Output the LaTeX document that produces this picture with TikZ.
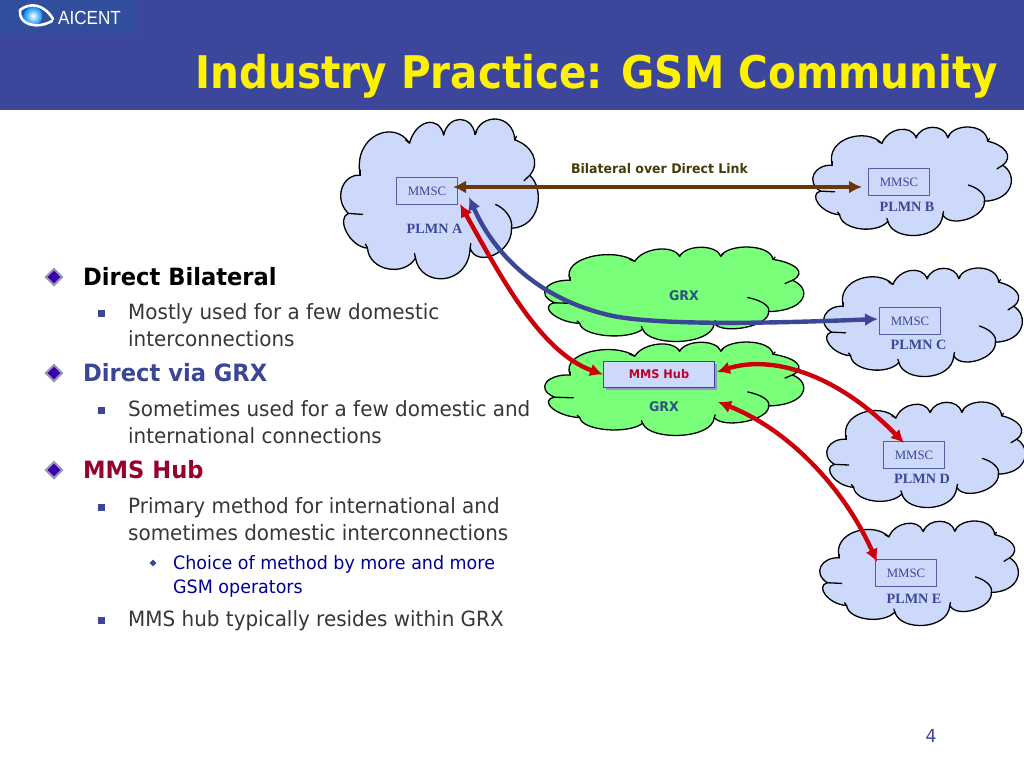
\documentclass[tikz,border=0pt]{standalone}
\usepackage{fontspec}
\setmainfont{DejaVu Sans}[FakeStretch=0.95]
\newfontfamily\titleface{DejaVu Sans}[FakeStretch=0.9]
\newfontfamily\serifface{Liberation Serif}
\newfontfamily\logoface{Liberation Sans}[FakeStretch=0.9]
\usetikzlibrary{arrows.meta,shapes.geometric}
\definecolor{header}{RGB}{60,70,155}
\definecolor{logobg}{RGB}{48,78,155}
\definecolor{cloudblue}{RGB}{204,217,250}
\definecolor{cloudgreen}{RGB}{122,255,122}
\definecolor{navyish}{RGB}{60,70,150}
\definecolor{boxedge}{RGB}{85,95,165}
\definecolor{crimson}{RGB}{150,0,45}
\definecolor{hubred}{RGB}{190,0,40}
\definecolor{arrowred}{RGB}{204,0,10}
\definecolor{arrowbrown}{RGB}{105,55,10}
\definecolor{labelolive}{RGB}{70,60,10}
\definecolor{grxtext}{RGB}{45,85,130}
\definecolor{bodygrey}{RGB}{55,55,55}
\definecolor{deepblue}{RGB}{0,0,150}
\definecolor{diamondfill}{RGB}{60,0,170}
\definecolor{diamondedge}{RGB}{150,150,190}
\newcommand{\cloudA}[5]{%
\begin{scope}[shift={(#1,#2)},xscale=#3/592,yscale=#4/480]
\draw[black,line width=1.3pt,fill=#5,line join=round]
 (207,73) .. controls (225,4) and (295,-14) .. (310,48)
 .. controls (325,-14) and (395,-14) .. (405,47)
 .. controls (420,-18) and (520,-18) .. (525,63)
 .. controls (575,80) and (605,130) .. (570,170)
 .. controls (615,210) and (605,325) .. (515,330)
 .. controls (518,405) and (410,450) .. (390,390)
 .. controls (385,505) and (240,510) .. (225,420)
 .. controls (190,478) and (85,458) .. (80,390)
 .. controls (25,385) and (-15,300) .. (22,285)
 .. controls (-24,240) and (5,165) .. (58,170)
 .. controls (35,50) and (160,0) .. (207,73) -- cycle;
\draw[black,line width=1.3pt,line cap=round]
 (207,73) -- (195,63) (310,48) -- (312,38) (405,47) -- (410,36)
 (525,63) -- (530,52) (570,170) -- (553,186)
 (515,330) .. controls (520,300) and (495,270) .. (467,258)
 (390,390) -- (392,376) (225,420) -- (222,406) (80,390) -- (74,378)
 (22,285) -- (65,288) (58,170) -- (58,154);
\end{scope}}
\tikzset{
 mmscbox/.style={draw=boxedge,line width=1pt,minimum width=61pt,minimum height=27pt,inner sep=0pt,anchor=north west,text=navyish,font=\serifface\fontsize{12.8}{14}\selectfont},
 plmn/.style={anchor=base,text=navyish,font=\serifface\bfseries\fontsize{14.2}{15}\selectfont},
 grxlabel/.style={anchor=base,text=grxtext,font=\bfseries\fontsize{13.3}{15}\selectfont},
 lvlone/.style={anchor=base west,inner sep=0pt,font=\bfseries\fontsize{23.8}{26}\selectfont},
 lvltwo/.style={anchor=base west,inner sep=0pt,text=bodygrey,font=\fontsize{21}{24}\selectfont},
 lvlthree/.style={anchor=base west,inner sep=0pt,text=deepblue,font=\fontsize{18.4}{21}\selectfont},
 bulletone/.style={diamond,draw=diamondedge,fill=diamondfill,line width=2pt,minimum width=17pt,minimum height=17pt,inner sep=0pt},
 bullettwo/.style={rectangle,fill=navyish,minimum width=7pt,minimum height=7pt,inner sep=0pt},
 bulletthree/.style={diamond,fill=navyish,minimum width=7pt,minimum height=7pt,inner sep=0pt},
 bothways/.style={line width=4.4pt,{Latex[length=13pt,width=13pt]}-{Latex[length=13pt,width=13pt]}},
}
\begin{document}
\begin{tikzpicture}[x=1pt,y=-1pt]
\useasboundingbox (0,0) rectangle (1024,768);
\fill[white] (0,0) rectangle (1024,768);
\fill[header] (0,0) rectangle (1024,110);
\fill[logobg] (0,0) rectangle (137,33);
% logo
\shade[inner color=white,outer color=blue!45!cyan] (33,16) circle (9.5pt);
\draw[white,line width=2.6pt,line cap=round] (20,10) .. controls (18,24) and (36,30) .. (52,21);
\draw[white,line width=2.6pt,line cap=round] (20,10) .. controls (30,2) and (44,4) .. (53,19);
\node[anchor=base west,inner sep=0pt,text=white,font=\logoface\fontsize{19}{20}\selectfont] (logotext) at (58,25) {AICENT};
% title
\node[anchor=base east,inner sep=0pt,text=yellow,font=\titleface\bfseries\fontsize{45}{48}\selectfont] (title) at (998,88) {Industry Practice: GSM Community};
% clouds
\cloudA{341}{119}{196}{159}{cloudblue}
\cloudA{813}{127}{197}{108}{cloudblue}
\cloudA{824}{268}{197}{108}{cloudblue}
\cloudA{827}{402}{197}{105}{cloudblue}
\cloudA{820}{521}{197}{104}{cloudblue}
\cloudA{545}{247}{257}{94}{cloudgreen}
\cloudA{545}{342}{257}{93}{cloudgreen}
% boxes
\node[mmscbox] (mmscA) at (396,177) {MMSC};
\node[mmscbox] (mmscB) at (868,168) {MMSC};
\node[mmscbox] (mmscC) at (879,307) {MMSC};
\node[mmscbox] (mmscD) at (883,441) {MMSC};
\node[mmscbox] (mmscE) at (875,559) {MMSC};
\node[plmn] (plmnA) at (434.5,233) {PLMN A};
\node[plmn] (plmnB) at (907,211) {PLMN B};
\node[plmn] (plmnC) at (918.5,349) {PLMN C};
\node[plmn] (plmnD) at (922,483) {PLMN D};
\node[plmn] (plmnE) at (914,603) {PLMN E};
\node[grxlabel] (grxone) at (684,300) {GRX};
\node[grxlabel] (grxtwo) at (664,411) {GRX};
\fill[navyish!55!white] (606,364) rectangle (717,390);
\node[draw=navyish,line width=1pt,fill=cloudblue,minimum width=111pt,minimum height=26pt,inner sep=0pt,anchor=north west,text=hubred,font=\bfseries\fontsize{11.9}{14}\selectfont] (hub) at (603,361) {MMS Hub};
% label
\node[anchor=base,inner sep=0pt,text=labelolive,font=\bfseries\fontsize{13.2}{15}\selectfont] (bilateral) at (659.5,173) {Bilateral over Direct Link};
% connector ends
\coordinate (tipA) at (453,187);
\coordinate (tipB) at (862,187);
\coordinate (blueA) at (469,197);
\coordinate (blueMid) at (613,316);
\coordinate (blueC) at (878,319);
\coordinate (redA) at (460,204);
\coordinate (hubL) at (hub.west);
\coordinate (hubR) at (717,372);
\coordinate (hubRlow) at (718,402);
\coordinate (redD) at (904,443);
\coordinate (redE) at (877,562);
\draw[bothways,arrowbrown] (tipA) -- (tipB);
\draw[bothways,navyish] (blueA) .. controls (490,245) and (530,298) .. (blueMid) .. controls (665,326) and (780,323) .. (blueC);
\draw[bothways,arrowred] (redA) .. controls (500,275) and (540,352) .. (hubL);
\draw[bothways,arrowred] (hubR) .. controls (770,355) and (835,372) .. (redD);
\draw[bothways,arrowred] (hubRlow) .. controls (790,430) and (845,490) .. (redE);
% bullets
\node[bulletone] (bdone) at (54,277) {};
\node[bulletone] (bdtwo) at (54,373) {};
\node[bulletone] (bdthree) at (54,470) {};
\node[bullettwo] (bsone) at (101,313) {};
\node[bullettwo] (bstwo) at (101,410) {};
\node[bullettwo] (bsthree) at (101,507) {};
\node[bullettwo] (bsfour) at (101,620) {};
\node[bulletthree] (bsmall) at (153,563) {};
% text
\node[lvlone,text=black] (t1) at (83,285.5) {Direct Bilateral};
\node[lvltwo] (t2) at (128,319.5) {Mostly used for a few domestic};
\node[lvltwo] (t3) at (128,346.5) {interconnections};
\node[lvlone,text=navyish] (t4) at (83,381.5) {Direct via GRX};
\node[lvltwo] (t5) at (128,416.5) {Sometimes used for a few domestic and};
\node[lvltwo] (t6) at (128,443.5) {international connections};
\node[lvlone,text=crimson] (t7) at (83,478.5) {MMS Hub};
\node[lvltwo] (t8) at (128,513.5) {Primary method for international and};
\node[lvltwo] (t9) at (128,540.5) {sometimes domestic interconnections};
\node[lvlthree] (t10) at (173,569.5) {Choice of method by more and more};
\node[lvlthree] (t11) at (173,593.5) {GSM operators};
\node[lvltwo] (t12) at (128,626.5) {MMS hub typically resides within GRX};
\node[anchor=base,inner sep=0pt,text=navyish,font=\fontsize{18}{20}\selectfont] (pagenum) at (931,742) {4};
\end{tikzpicture}
\end{document}
